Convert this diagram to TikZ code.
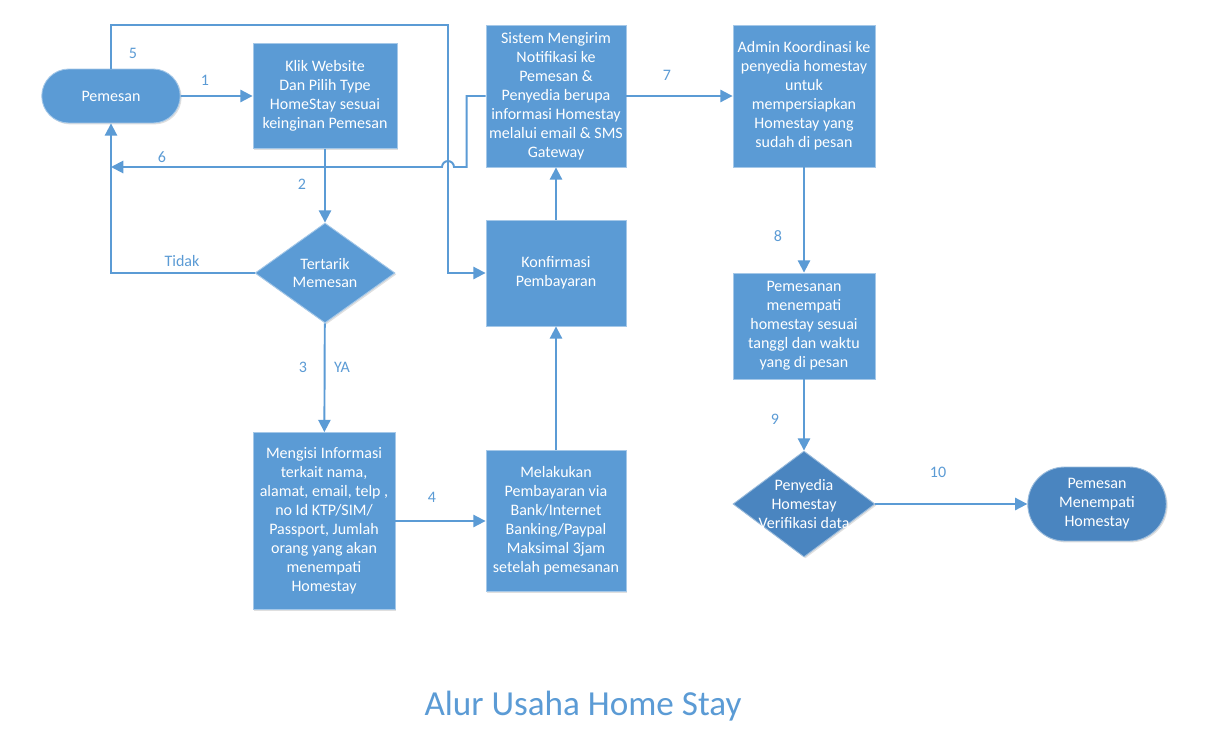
\documentclass[tikz,border=0pt]{standalone}
\usepackage{fontspec}
\setmainfont{Carlito}
\usetikzlibrary{arrows.meta,shapes.geometric,shapes.misc,shadows}
\definecolor{boxblue}{RGB}{91,155,213}
\definecolor{darkblue}{RGB}{74,133,192}
\begin{document}
\begin{tikzpicture}[x=0.02cm,y=-0.02cm,
every node/.style={font=\fontsize{9.1}{10.8}\selectfont, align=center},
box/.style={rectangle, fill=boxblue, draw=boxblue!55!white, line width=0.5pt, text=white, inner sep=1pt, drop shadow={shadow xshift=0.8pt, shadow yshift=-0.8pt, opacity=0.25}},
decision/.style={diamond, fill=#1, draw=#1!55!white, line width=0.5pt, text=white, inner sep=-8pt, drop shadow={shadow xshift=0.8pt, shadow yshift=-0.8pt, opacity=0.25}},
terminal/.style={rounded rectangle, fill=#1, draw=#1!55!white, line width=0.5pt, text=white, inner sep=1pt, drop shadow={shadow xshift=0.8pt, shadow yshift=-0.8pt, opacity=0.25}},
flow/.style={draw=boxblue, line width=1.1pt, -{Triangle[length=7pt,width=7pt]}},
num/.style={text=boxblue}
]
\fill[white] (0,0) rectangle (1217,737);
\useasboundingbox (0,0) rectangle (1217,737);
\node[terminal=boxblue, minimum width=2.84cm, minimum height=1.08cm] (pem) at (111,96) {Pemesan};
\node[box, minimum width=2.88cm, minimum height=2.1cm] (klik) at (325,96) {Klik Website\\Dan Pilih Type\\HomeStay sesuai\\keinginan Pemesan};
\node[decision=boxblue, minimum width=2.8cm, minimum height=2cm] (tertarik) at (325,273) {Tertarik\\Memesan};
\node[box, minimum width=2.84cm, minimum height=3.54cm] (mengisi) at (324,521) {Mengisi Informasi\\terkait nama,\\alamat, email, telp ,\\no Id KTP/SIM/\\Passport, Jumlah\\orang yang akan\\menempati\\Homestay};
\node[box, minimum width=2.8cm, minimum height=2.82cm] (melakukan) at (556,521) {Melakukan\\Pembayaran via\\Bank/Internet\\Banking/Paypal\\Maksimal 3jam\\setelah pemesanan};
\node[box, minimum width=2.8cm, minimum height=2.12cm] (konf) at (556,273) {Konfirmasi\\Pembayaran};
\node[box, minimum width=2.8cm, minimum height=2.84cm] (sistem) at (556,96) {Sistem Mengirim\\Notifikasi ke\\Pemesan \&\\Penyedia berupa\\informasi Homestay\\melalui email \& SMS\\Gateway};
\node[box, minimum width=2.84cm, minimum height=2.84cm] (admin) at (804,96) {Admin Koordinasi ke\\penyedia homestay\\untuk\\mempersiapkan\\Homestay yang\\sudah di pesan};
\node[box, minimum width=2.84cm, minimum height=2.12cm] (pemesanan) at (804,326) {Pemesanan\\menempati\\homestay sesuai\\tanggl dan waktu\\yang di pesan};
\node[decision=darkblue, minimum width=2.84cm, minimum height=2.12cm] (verif) at (804,504) {Penyedia\\Homestay\\Verifikasi data};
\node[terminal=darkblue, minimum width=2.84cm, minimum height=1.48cm] (menempati) at (1097,504) {Pemesan\\Menempati\\Homestay};
\coordinate (hop) at (448,167);
\draw[flow] (pem) -- (klik);
\draw[flow] (pem.north) |- (448,25) |- (konf.west);
\draw[flow] (sistem.west) -- ++(-19,0) |- ([xshift=3.4pt]hop) arc[start angle=0, end angle=180, radius=3.4pt] -- (pem |- hop);
\draw[flow] (klik) -- (tertarik);
\draw[flow] (tertarik.west) -| (pem.south);
\draw[flow] (tertarik) -- (mengisi);
\draw[flow] (mengisi) -- (melakukan);
\draw[flow] (melakukan) -- (konf);
\draw[flow] (konf) -- (sistem);
\draw[flow] (sistem) -- (admin);
\draw[flow] (admin) -- (pemesanan);
\draw[flow] (pemesanan) -- (verif);
\draw[flow] (verif) -- (menempati);
\node[num] (n1) at (205,80) {1};
\node[num] (n2) at (302,184) {2};
\node[num] (n3) at (303,367) {3};
\node[num] (ya) at (342,367) {YA};
\node[num] (n4) at (432,497) {4};
\node[num] (n5) at (133,53) {5};
\node[num] (n6) at (162,157) {6};
\node[num] (tidak) at (182,261) {Tidak};
\node[num] (n7) at (667,75) {7};
\node[num] (n8) at (778,236) {8};
\node[num] (n9) at (775,419) {9};
\node[num] (n10) at (938,472) {10};
\node[text=boxblue, font=\fontsize{20}{24}\selectfont] (title) at (583,706) {Alur Usaha Home Stay};
\end{tikzpicture}
\end{document}
